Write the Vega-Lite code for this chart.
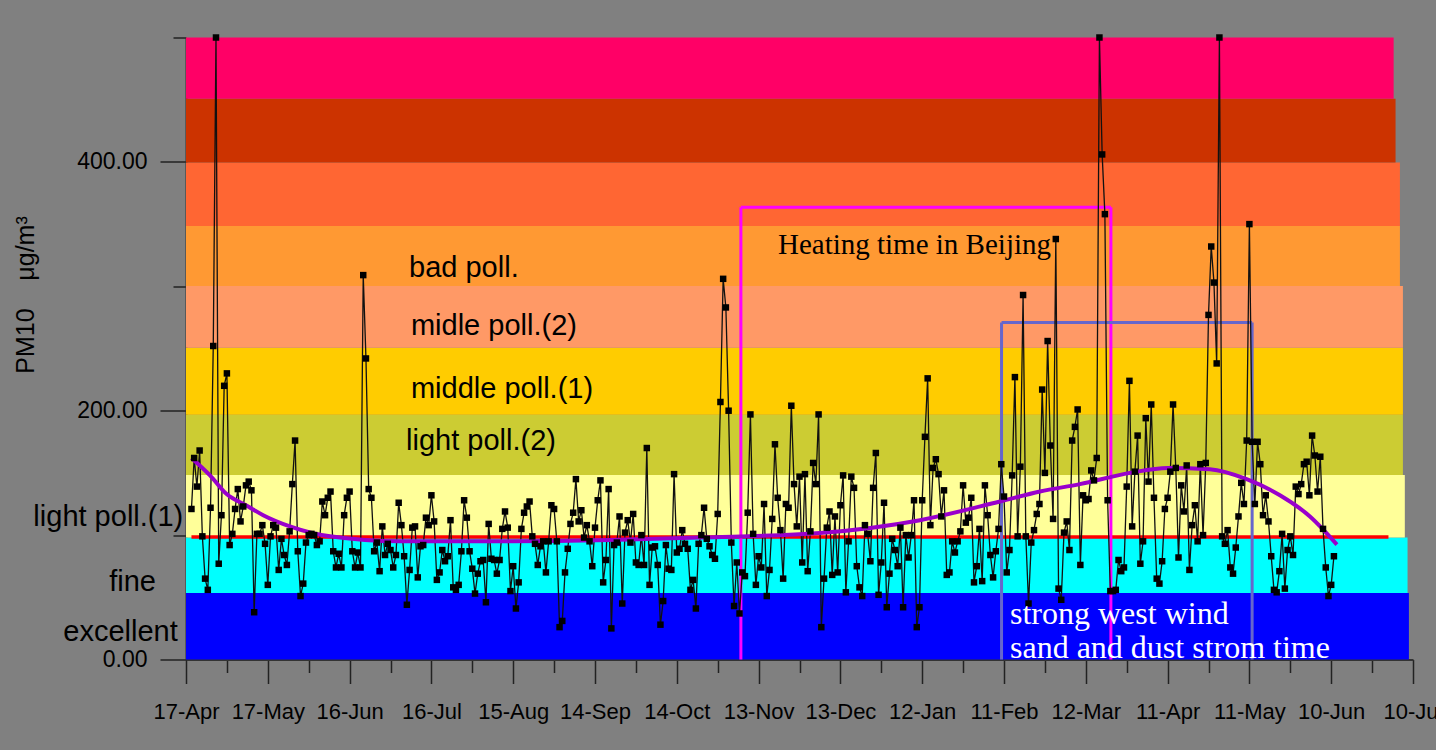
{
  "$schema": "https://vega.github.io/schema/vega-lite/v6.json",
  "width": 1227,
  "height": 622,
  "autosize": {"type": "none"},
  "padding": {"left": 186, "top": 37.5, "right": 23, "bottom": 90.5},
  "background": "#808080",
  "config": {"view": {"stroke": null}, "font": "Liberation Sans"},
  "resolve": {"scale": {"color": "independent"}},
  "datasets": {
    "bands": [
      {"band": "excellent", "start": 0, "end": 448.5, "lo": 0, "hi": 53.5},
      {"band": "fine", "start": 0, "end": 448, "lo": 53.5, "hi": 98},
      {"band": "light poll.(1)", "start": 0, "end": 447, "lo": 98, "hi": 148.3},
      {"band": "light poll.(2)", "start": 0, "end": 446.3, "lo": 148.3, "hi": 196.8},
      {"band": "middle poll.(1)", "start": 0, "end": 446.3, "lo": 196.8, "hi": 250.6},
      {"band": "middle poll.(2)", "start": 0, "end": 446.3, "lo": 250.6, "hi": 300.2},
      {"band": "bad poll.", "start": 0, "end": 445.2, "lo": 300.2, "hi": 348.5},
      {"band": "heavy poll.(1)", "start": 0, "end": 445.2, "lo": 348.5, "hi": 399.6},
      {"band": "heavy poll.(2)", "start": 0, "end": 443.6, "lo": 399.6, "hi": 450.7},
      {"band": "heavy poll.(3)", "start": 0, "end": 442.9, "lo": 450.7, "hi": 500}
    ],
    "standard": [{"from": 2, "to": 441, "level": 98.5}],
    "frames": [
      {"period": "heating", "begin": 203.5, "finish": 339.2, "top": 363.5},
      {"period": "wind", "begin": 299.1, "finish": 391, "top": 271}
    ],
    "trend": [
      {"day": 2, "value": 162}, {"day": 8.8, "value": 148}, {"day": 14.9, "value": 133},
      {"day": 22.3, "value": 123.6}, {"day": 28.3, "value": 116}, {"day": 38.1, "value": 107},
      {"day": 52.8, "value": 99}, {"day": 78.5, "value": 95}, {"day": 115, "value": 95},
      {"day": 155.5, "value": 96}, {"day": 188.5, "value": 98}, {"day": 232.5, "value": 101.7},
      {"day": 269.2, "value": 112}, {"day": 298.5, "value": 127}, {"day": 313.2, "value": 135},
      {"day": 327.8, "value": 141}, {"day": 346.2, "value": 150}, {"day": 360, "value": 154},
      {"day": 375.5, "value": 153}, {"day": 389, "value": 145}, {"day": 401.2, "value": 132},
      {"day": 412.2, "value": 115}, {"day": 422.1, "value": 92.4}
    ],
    "bandLabels": [
      {"label": "bad poll.", "day": 81.8, "value": 314.7},
      {"label": "midle poll.(2)", "day": 82.5, "value": 268},
      {"label": "middle poll.(1)", "day": 82.5, "value": 217.4},
      {"label": "light poll.(2)", "day": 80.7, "value": 175.6}
    ],
    "sideLabels": [
      {"label": "light poll.(1)", "day": -1, "value": 114.5},
      {"label": "fine", "day": -11, "value": 62},
      {"label": "excellent", "day": -3, "value": 22.4}
    ],
    "heatingNote": [{"label": "Heating time in Beijing", "day": 217.1, "value": 333}],
    "windNote": [
      {"label": "strong west wind", "day": 302.2, "value": 36.6},
      {"label": "sand and dust strom time", "day": 302.2, "value": 9.2}
    ],
    "pm10": [
      {"day":2,"pm10":121},{"day":3,"pm10":162},{"day":4,"pm10":139},{"day":5,"pm10":168},{"day":6,"pm10":99},{"day":7,"pm10":65},{"day":8,"pm10":56},{"day":9,"pm10":122},{"day":10,"pm10":252},{"day":11,"pm10":500},
      {"day":12,"pm10":77},{"day":13,"pm10":116},{"day":14,"pm10":220},{"day":15,"pm10":230},{"day":16,"pm10":92},{"day":17,"pm10":101},{"day":18,"pm10":121},{"day":19,"pm10":137},{"day":20,"pm10":111},{"day":21,"pm10":123},
      {"day":22,"pm10":140},{"day":23,"pm10":143},{"day":24,"pm10":136},{"day":25,"pm10":38},{"day":26,"pm10":101},{"day":27,"pm10":101},{"day":28,"pm10":108},{"day":29,"pm10":93},{"day":30,"pm10":60},{"day":31,"pm10":99},
      {"day":32,"pm10":108},{"day":33,"pm10":106},{"day":34,"pm10":72},{"day":35,"pm10":97},{"day":36,"pm10":84},{"day":37,"pm10":76},{"day":38,"pm10":103},{"day":39,"pm10":141},{"day":40,"pm10":176},{"day":41,"pm10":87},
      {"day":42,"pm10":51},{"day":43,"pm10":61},{"day":44,"pm10":94},{"day":45,"pm10":100},{"day":46,"pm10":101},{"day":47,"pm10":100},{"day":48,"pm10":92},{"day":49,"pm10":95},{"day":50,"pm10":127},{"day":51,"pm10":116},
      {"day":52,"pm10":130},{"day":53,"pm10":135},{"day":54,"pm10":87},{"day":55,"pm10":74},{"day":56,"pm10":85},{"day":57,"pm10":74},{"day":58,"pm10":116},{"day":59,"pm10":130},{"day":60,"pm10":135},{"day":61,"pm10":87},
      {"day":62,"pm10":74},{"day":63,"pm10":86},{"day":64,"pm10":74},{"day":65,"pm10":309},{"day":66,"pm10":242},{"day":67,"pm10":137},{"day":68,"pm10":130},{"day":69,"pm10":87},{"day":70,"pm10":94},{"day":71,"pm10":71},
      {"day":72,"pm10":107},{"day":73,"pm10":84},{"day":74,"pm10":93},{"day":75,"pm10":88},{"day":76,"pm10":74},{"day":77,"pm10":84},{"day":78,"pm10":126},
      {"day":79,"pm10":108},{"day":80,"pm10":83},{"day":81,"pm10":44},{"day":82,"pm10":72},{"day":83,"pm10":106},{"day":84,"pm10":107},{"day":85,"pm10":66},{"day":86,"pm10":91},{"day":87,"pm10":92},{"day":88,"pm10":114},
      {"day":89,"pm10":108},{"day":90,"pm10":132},{"day":91,"pm10":111},{"day":92,"pm10":64},{"day":93,"pm10":70},{"day":94,"pm10":88},{"day":95,"pm10":79},{"day":96,"pm10":83},{"day":97,"pm10":112},{"day":98,"pm10":58},
      {"day":99,"pm10":56},{"day":100,"pm10":60},{"day":101,"pm10":87},{"day":102,"pm10":128},{"day":103,"pm10":114},{"day":104,"pm10":87},{"day":105,"pm10":73},{"day":106,"pm10":53},{"day":107,"pm10":69},{"day":108,"pm10":79},
      {"day":109,"pm10":80},{"day":110,"pm10":46},{"day":111,"pm10":109},{"day":112,"pm10":81},{"day":113,"pm10":80},{"day":114,"pm10":69},{"day":115,"pm10":80},{"day":116,"pm10":105},{"day":117,"pm10":119},{"day":118,"pm10":106},
      {"day":119,"pm10":55},{"day":120,"pm10":75},{"day":121,"pm10":41},{"day":122,"pm10":62},{"day":123,"pm10":105},{"day":124,"pm10":118},{"day":125,"pm10":123},{"day":126,"pm10":127},{"day":127,"pm10":99},{"day":128,"pm10":93},
      {"day":129,"pm10":76},{"day":130,"pm10":91},{"day":131,"pm10":95},{"day":132,"pm10":70},{"day":133,"pm10":95},{"day":134,"pm10":124},{"day":135,"pm10":121},{"day":136,"pm10":95},{"day":137,"pm10":26},{"day":138,"pm10":31},
      {"day":139,"pm10":70},{"day":140,"pm10":89},{"day":141,"pm10":109},{"day":142,"pm10":118},{"day":143,"pm10":145},{"day":144,"pm10":111},{"day":145,"pm10":120},{"day":146,"pm10":98},{"day":147,"pm10":108},{"day":148,"pm10":95},
      {"day":149,"pm10":75},{"day":150,"pm10":106},{"day":151,"pm10":128},{"day":152,"pm10":144},{"day":153,"pm10":62},{"day":154,"pm10":80},{"day":155,"pm10":137},
      {"day":156,"pm10":25},{"day":157,"pm10":92},{"day":158,"pm10":94},{"day":159,"pm10":115},{"day":160,"pm10":45},{"day":161,"pm10":102},{"day":162,"pm10":112},{"day":163,"pm10":94},{"day":164,"pm10":117},{"day":165,"pm10":78},
      {"day":166,"pm10":76},{"day":167,"pm10":100},{"day":168,"pm10":76},{"day":169,"pm10":170},{"day":170,"pm10":60},{"day":171,"pm10":90},{"day":172,"pm10":91},{"day":173,"pm10":76},{"day":174,"pm10":28},{"day":175,"pm10":47},
      {"day":176,"pm10":92},{"day":177,"pm10":73},{"day":178,"pm10":72},{"day":179,"pm10":149},{"day":180,"pm10":86},{"day":181,"pm10":89},{"day":182,"pm10":104},{"day":183,"pm10":93},{"day":184,"pm10":89},{"day":185,"pm10":56},
      {"day":186,"pm10":64},{"day":187,"pm10":41},{"day":188,"pm10":93},{"day":189,"pm10":100},{"day":190,"pm10":122},{"day":191,"pm10":97},{"day":192,"pm10":91},{"day":193,"pm10":84},{"day":194,"pm10":81},{"day":195,"pm10":117},
      {"day":196,"pm10":207},{"day":197,"pm10":306},{"day":198,"pm10":283},{"day":199,"pm10":200},{"day":200,"pm10":94},{"day":201,"pm10":43},{"day":202,"pm10":78},{"day":203,"pm10":37},{"day":204,"pm10":70},{"day":205,"pm10":67},
      {"day":206,"pm10":118},{"day":207,"pm10":197},{"day":208,"pm10":101},{"day":209,"pm10":60},{"day":210,"pm10":83},{"day":211,"pm10":74},{"day":212,"pm10":125},{"day":213,"pm10":51},{"day":214,"pm10":72},{"day":215,"pm10":113},
      {"day":216,"pm10":173},{"day":217,"pm10":130},{"day":218,"pm10":104},{"day":219,"pm10":65},{"day":220,"pm10":125},{"day":221,"pm10":122},{"day":222,"pm10":204},{"day":223,"pm10":141},{"day":224,"pm10":107},{"day":225,"pm10":147},
      {"day":226,"pm10":78},{"day":227,"pm10":149},{"day":228,"pm10":71},{"day":229,"pm10":103},{"day":230,"pm10":158},{"day":231,"pm10":141},{"day":232,"pm10":197},
      {"day":233,"pm10":26},{"day":234,"pm10":65},{"day":235,"pm10":106},{"day":236,"pm10":119},{"day":237,"pm10":68},{"day":238,"pm10":115},{"day":239,"pm10":70},{"day":240,"pm10":124},{"day":241,"pm10":148},{"day":242,"pm10":54},
      {"day":243,"pm10":95},{"day":244,"pm10":147},{"day":245,"pm10":138},{"day":246,"pm10":75},{"day":247,"pm10":58},{"day":248,"pm10":51},{"day":249,"pm10":108},{"day":250,"pm10":101},{"day":251,"pm10":79},{"day":252,"pm10":138},
      {"day":253,"pm10":166},{"day":254,"pm10":52},{"day":255,"pm10":78},{"day":256,"pm10":126},{"day":257,"pm10":42},{"day":258,"pm10":69},{"day":259,"pm10":97},{"day":260,"pm10":88},{"day":261,"pm10":75},{"day":262,"pm10":106},
      {"day":263,"pm10":42},{"day":264,"pm10":100},{"day":265,"pm10":82},{"day":266,"pm10":100},{"day":267,"pm10":128},{"day":268,"pm10":26},{"day":269,"pm10":42},{"day":270,"pm10":128},{"day":271,"pm10":179},{"day":272,"pm10":226},
      {"day":273,"pm10":108},{"day":274,"pm10":154},{"day":275,"pm10":161},{"day":276,"pm10":149},{"day":277,"pm10":115},{"day":278,"pm10":136},{"day":279,"pm10":68},{"day":280,"pm10":70},{"day":281,"pm10":95},{"day":282,"pm10":86},
      {"day":283,"pm10":95},{"day":284,"pm10":103},{"day":285,"pm10":140},{"day":286,"pm10":110},{"day":287,"pm10":114},{"day":288,"pm10":130},{"day":289,"pm10":62},{"day":290,"pm10":75},{"day":291,"pm10":105},{"day":292,"pm10":63},
      {"day":293,"pm10":140},{"day":294,"pm10":116},{"day":295,"pm10":84},{"day":296,"pm10":66},{"day":297,"pm10":87},{"day":298,"pm10":105},{"day":299,"pm10":157},{"day":300,"pm10":131},{"day":301,"pm10":70},{"day":302,"pm10":88},
      {"day":303,"pm10":148},{"day":304,"pm10":227},{"day":305,"pm10":99},{"day":306,"pm10":155},{"day":307,"pm10":293},{"day":308,"pm10":99},{"day":309,"pm10":45},
      {"day":310,"pm10":94},{"day":311,"pm10":104},{"day":312,"pm10":117},{"day":313,"pm10":125},{"day":314,"pm10":217},{"day":315,"pm10":150},{"day":316,"pm10":256},{"day":317,"pm10":172},{"day":318,"pm10":113},{"day":319,"pm10":338},
      {"day":320,"pm10":57},{"day":321,"pm10":48},{"day":322,"pm10":102},{"day":323,"pm10":111},{"day":324,"pm10":88},{"day":325,"pm10":176},{"day":326,"pm10":187},{"day":327,"pm10":201},{"day":328,"pm10":76},{"day":329,"pm10":132},
      {"day":330,"pm10":128},{"day":331,"pm10":129},{"day":332,"pm10":152},{"day":333,"pm10":144},{"day":334,"pm10":162},{"day":335,"pm10":500},{"day":336,"pm10":406},{"day":337,"pm10":358},{"day":338,"pm10":128},{"day":339,"pm10":55},
      {"day":340,"pm10":55},{"day":341,"pm10":56},{"day":342,"pm10":80},{"day":343,"pm10":71},{"day":344,"pm10":74},{"day":345,"pm10":139},{"day":346,"pm10":224},{"day":347,"pm10":107},{"day":348,"pm10":151},{"day":349,"pm10":180},
      {"day":350,"pm10":77},{"day":351,"pm10":95},{"day":352,"pm10":194},{"day":353,"pm10":143},{"day":354,"pm10":205},{"day":355,"pm10":130},{"day":356,"pm10":65},{"day":357,"pm10":61},{"day":358,"pm10":79},{"day":359,"pm10":121},
      {"day":360,"pm10":130},{"day":361,"pm10":151},{"day":362,"pm10":205},{"day":363,"pm10":154},{"day":364,"pm10":82},{"day":365,"pm10":140},{"day":366,"pm10":119},{"day":367,"pm10":156},{"day":368,"pm10":72},{"day":369,"pm10":108},
      {"day":370,"pm10":124},{"day":371,"pm10":95},{"day":372,"pm10":157},{"day":373,"pm10":100},{"day":374,"pm10":158},{"day":375,"pm10":277},{"day":376,"pm10":332},{"day":377,"pm10":303},{"day":378,"pm10":238},{"day":379,"pm10":500},
      {"day":380,"pm10":99},{"day":381,"pm10":93},{"day":382,"pm10":104},{"day":383,"pm10":74},{"day":384,"pm10":69},{"day":385,"pm10":90},{"day":386,"pm10":115},{"day":387,"pm10":142},{"day":388,"pm10":125},{"day":389,"pm10":176},
      {"day":390,"pm10":350},{"day":391,"pm10":175},
      {"day":392,"pm10":125},{"day":393,"pm10":175},{"day":394,"pm10":157},{"day":395,"pm10":116},{"day":396,"pm10":132},{"day":397,"pm10":111},{"day":398,"pm10":83},{"day":399,"pm10":56},{"day":400,"pm10":54},{"day":401,"pm10":71},
      {"day":402,"pm10":101},{"day":403,"pm10":57},{"day":404,"pm10":88},{"day":405,"pm10":99},{"day":406,"pm10":84},{"day":407,"pm10":139},{"day":408,"pm10":133},{"day":409,"pm10":141},{"day":410,"pm10":157},{"day":411,"pm10":159},
      {"day":412,"pm10":132},{"day":413,"pm10":180},{"day":414,"pm10":164},{"day":415,"pm10":135},{"day":416,"pm10":163},{"day":417,"pm10":105},{"day":418,"pm10":74},{"day":419,"pm10":51},{"day":420,"pm10":60},{"day":421,"pm10":83}
    ]
  },
  "layer": [
    {
      "data": {"name": "bands"},
      "mark": {"type": "rect"},
      "encoding": {
        "x": {
          "field": "start", "type": "quantitative",
          "scale": {"domain": [0, 450], "nice": false, "zero": false},
          "axis": {
            "title": null,
            "values": [0,15,30,45,60,75,90,105,120,135,150,165,180,195,210,225,240,255,270,285,300,315,330,345,360,375,390,405,420,435,450],
            "labelExpr": "datum.value % 30 === 0 ? timeFormat(datetime(2003, 3, 17 + datum.value), '%d-%b') : ''",
            "tickSize": {"condition": {"test": "datum.value % 30 === 0", "value": 24}, "value": 13},
            "tickColor": "#222222", "tickWidth": 1.5,
            "domainColor": "#333333", "domainWidth": 2,
            "labelFontSize": 22, "labelColor": "#000000", "labelPadding": 17.5,
            "labelFlush": false, "labelOverlap": false, "labelBound": false, "grid": false
          }
        },
        "x2": {"field": "end"},
        "y": {
          "field": "lo", "type": "quantitative",
          "title": "PM10\u00a0\u00a0\u00a0\u00a0μg/m³",
          "scale": {"domain": [0, 500], "nice": false},
          "axis": {
            "values": [0, 100, 200, 300, 400, 500],
            "labelExpr": "datum.value % 200 === 0 ? format(datum.value, '.2f') : ''",
            "tickSize": {"condition": {"test": "datum.value % 200 === 0", "value": 26}, "value": 13},
            "tickColor": "#222222", "tickWidth": 1.5,
            "domainColor": "#333333", "domainWidth": 2,
            "labelFontSize": 23, "labelColor": "#000000", "labelPadding": 13,
            "labelOverlap": false, "labelFlush": false, "grid": false,
            "title": "PM10\u00a0\u00a0\u00a0\u00a0μg/m³",
            "titleFontSize": 25, "titleFontWeight": "normal", "titleColor": "#000000",
            "titleAngle": -90, "titleAlign": "center", "titleBaseline": "middle",
            "titleX": -161, "titleY": 257
          }
        },
        "y2": {"field": "hi"},
        "color": {
          "field": "band", "type": "nominal", "legend": null,
          "scale": {
            "domain": ["excellent", "fine", "light poll.(1)", "light poll.(2)", "middle poll.(1)", "middle poll.(2)", "bad poll.", "heavy poll.(1)", "heavy poll.(2)", "heavy poll.(3)"],
            "range": ["#0000FF", "#00FFFF", "#FFFF99", "#CCCC33", "#FFCC00", "#FF9966", "#FF9933", "#FF6633", "#CC3300", "#FF0066"]
          }
        }
      }
    },
    {
      "data": {"name": "standard"},
      "mark": {"type": "rule", "color": "#FF0000", "strokeWidth": 3.5},
      "encoding": {
        "x": {"field": "from", "type": "quantitative", "title": null},
        "x2": {"field": "to"},
        "y": {"field": "level", "type": "quantitative", "title": "PM10\u00a0\u00a0\u00a0\u00a0μg/m³"}
      }
    },
    {
      "data": {"name": "frames"},
      "mark": {"type": "rule", "strokeWidth": 3},
      "encoding": {
        "x": {"field": "begin", "type": "quantitative", "title": null},
        "y": {"field": "top", "type": "quantitative", "title": "PM10\u00a0\u00a0\u00a0\u00a0μg/m³"},
        "y2": {"datum": 0},
        "color": {"field": "period", "type": "nominal", "legend": null, "scale": {"domain": ["heating", "wind"], "range": ["#FF00FF", "#6666CC"]}}
      }
    },
    {
      "data": {"name": "frames"},
      "mark": {"type": "rule", "strokeWidth": 3},
      "encoding": {
        "x": {"field": "finish", "type": "quantitative", "title": null},
        "y": {"field": "top", "type": "quantitative", "title": "PM10\u00a0\u00a0\u00a0\u00a0μg/m³"},
        "y2": {"datum": 0},
        "color": {"field": "period", "type": "nominal", "legend": null, "scale": {"domain": ["heating", "wind"], "range": ["#FF00FF", "#6666CC"]}}
      }
    },
    {
      "data": {"name": "frames"},
      "mark": {"type": "rule", "strokeWidth": 3},
      "encoding": {
        "x": {"field": "begin", "type": "quantitative", "title": null},
        "x2": {"field": "finish"},
        "y": {"field": "top", "type": "quantitative", "title": "PM10\u00a0\u00a0\u00a0\u00a0μg/m³"},
        "color": {"field": "period", "type": "nominal", "legend": null, "scale": {"domain": ["heating", "wind"], "range": ["#FF00FF", "#6666CC"]}}
      }
    },
    {
      "data": {"name": "pm10"},
      "mark": {"type": "line", "color": "#111111", "strokeWidth": 1.3},
      "encoding": {
        "x": {"field": "day", "type": "quantitative", "title": null},
        "y": {"field": "pm10", "type": "quantitative", "title": "PM10\u00a0\u00a0\u00a0\u00a0μg/m³"}
      }
    },
    {
      "data": {"name": "trend"},
      "mark": {"type": "line", "color": "#9900CC", "strokeWidth": 4, "interpolate": "monotone"},
      "encoding": {
        "x": {"field": "day", "type": "quantitative", "title": null},
        "y": {"field": "value", "type": "quantitative", "title": "PM10\u00a0\u00a0\u00a0\u00a0μg/m³"}
      }
    },
    {
      "data": {"name": "pm10"},
      "mark": {"type": "point", "shape": "square", "filled": true, "size": 42, "color": "#000000", "opacity": 1},
      "encoding": {
        "x": {"field": "day", "type": "quantitative", "title": null},
        "y": {"field": "pm10", "type": "quantitative", "title": "PM10\u00a0\u00a0\u00a0\u00a0μg/m³"}
      }
    },
    {
      "data": {"name": "bandLabels"},
      "mark": {"type": "text", "align": "left", "baseline": "middle", "fontSize": 29, "font": "Liberation Sans", "color": "#000000"},
      "encoding": {
        "x": {"field": "day", "type": "quantitative", "title": null},
        "y": {"field": "value", "type": "quantitative", "title": "PM10\u00a0\u00a0\u00a0\u00a0μg/m³"},
        "text": {"field": "label"}
      }
    },
    {
      "data": {"name": "sideLabels"},
      "mark": {"type": "text", "align": "right", "baseline": "middle", "fontSize": 29, "font": "Liberation Sans", "color": "#000000"},
      "encoding": {
        "x": {"field": "day", "type": "quantitative", "title": null},
        "y": {"field": "value", "type": "quantitative", "title": "PM10\u00a0\u00a0\u00a0\u00a0μg/m³"},
        "text": {"field": "label"}
      }
    },
    {
      "data": {"name": "heatingNote"},
      "mark": {"type": "text", "align": "left", "baseline": "middle", "fontSize": 29, "font": "Liberation Serif", "color": "#000000"},
      "encoding": {
        "x": {"field": "day", "type": "quantitative", "title": null},
        "y": {"field": "value", "type": "quantitative", "title": "PM10\u00a0\u00a0\u00a0\u00a0μg/m³"},
        "text": {"field": "label"}
      }
    },
    {
      "data": {"name": "windNote"},
      "mark": {"type": "text", "align": "left", "baseline": "middle", "fontSize": 32, "font": "Liberation Serif", "color": "#FFFFFF"},
      "encoding": {
        "x": {"field": "day", "type": "quantitative", "title": null},
        "y": {"field": "value", "type": "quantitative", "title": "PM10\u00a0\u00a0\u00a0\u00a0μg/m³"},
        "text": {"field": "label"}
      }
    }
  ]
}
